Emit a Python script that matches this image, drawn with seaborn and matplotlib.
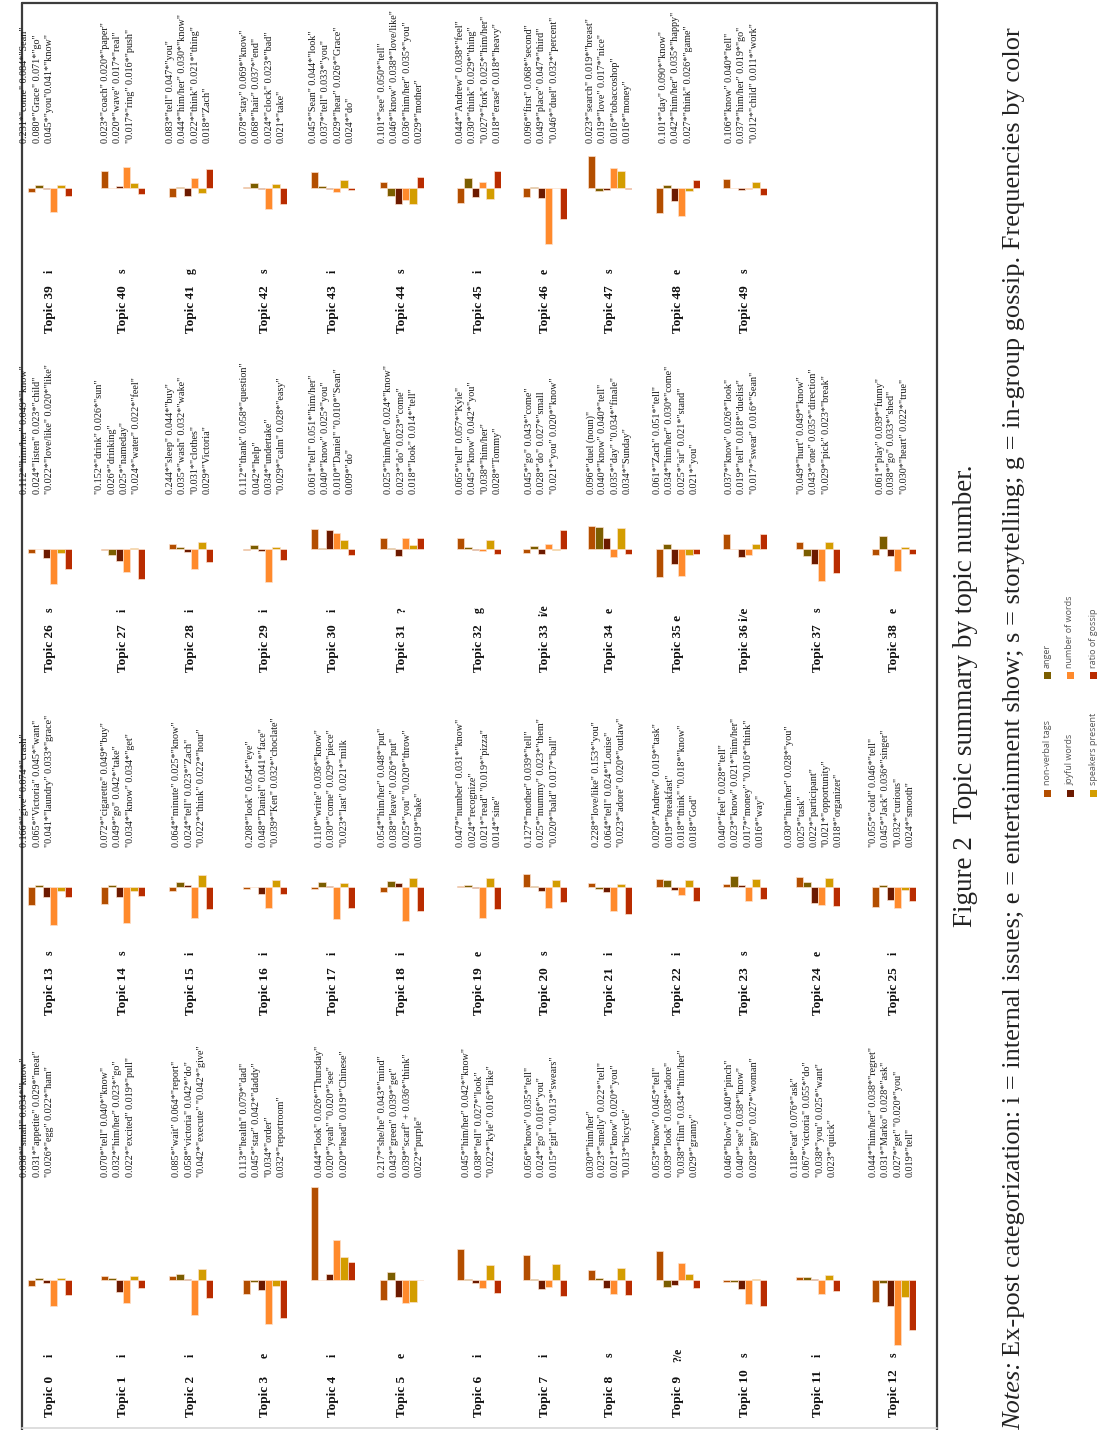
import matplotlib
matplotlib.use('Agg')
import matplotlib.pyplot as plt
import seaborn as sns
from matplotlib.patches import Rectangle
from matplotlib.lines import Line2D

sns.set_theme(style='white')
plt.rcParams['font.family'] = ['Liberation Serif', 'DejaVu Serif']

# ---- data (bar heights, arbitrary units) ----
features = ['non-verbal tags', 'anger', 'joyful words', 'number of words',
            'speakers present', 'ratio of gossip']
colors = ['#b34e00', '#7b5e00', '#6c1a00', '#ff8a2c', '#d39d00', '#b92c00']

nonverbal = [-0.6, 0.4, 0.4, -1.43, 9.33, -2.0, 3.07, 2.5, 1.0, 2.9, -0.2, 0.27, -2.17,
             -1.77, -1.67, -0.4, -0.23, -0.17, -0.47, 0.1, 1.33, 0.43, 0.83, 0.33, 1.0, -2.03,
             -0.4, -0.1, 0.5, -0.1, 2.03, 1.07, 1.1, -0.4, 2.27, -2.83, 1.5, 0.73, -0.57,
             -0.4, 1.7, -0.9, 0.1, 1.6, 0.57, -1.5, -0.9, 3.2, -2.47, 0.93]
anger = [0.2, 0.2, 0.57, -0.2, 0.05, 0.83, 0.13, 0.13, 0.23, -0.67, -0.2, 0.27, -0.33,
         0.23, 0.17, 0.5, 0.05, 0.5, 0.63, 0.23, 0.07, -0.23, 0.73, 1.13, 0.47, 0.2,
         0.05, -0.57, 0.2, 0.43, 0.1, 0.1, 0.23, 0.27, 2.2, 0.5, 0.0, -0.67, 1.27,
         0.33, 0.05, 0.1, 0.53, 0.2, -0.83, 1.0, 0.1, -0.33, 0.33, 0.05]
joyful = [-0.33, -1.17, 0.13, -1.0, 0.57, -1.7, -0.27, -0.87, -0.8, -0.5, -0.93, 0.13, -2.57,
          -1.0, -1.0, 0.17, -0.73, 0.07, 0.43, -0.1, -0.37, -0.5, -0.33, 0.17, -1.63, -1.27,
          -0.9, -1.17, -0.33, -0.23, 1.93, -0.67, -0.1, -0.47, 1.1, -1.47, -0.83, -1.5, -0.67,
          -0.1, 0.17, -0.83, -0.13, -0.1, -1.57, -0.9, -1.0, -0.23, -1.33, -0.23]
nwords = [-2.6, -2.27, -3.47, -4.37, 4.0, -2.3, -0.77, -0.73, -1.4, 1.7, -2.43, -1.4, -6.53,
          -3.83, -3.6, -3.1, -2.13, -3.2, -3.4, -3.13, -2.07, -2.37, -0.8, -1.4, -1.77, -2.1,
          -3.5, -2.3, -2.0, -3.27, 1.6, 1.13, -0.17, 0.47, -0.8, -2.73, -0.57, -3.17, -2.23,
          -2.4, 2.1, 1.0, -2.07, -0.4, -1.17, 0.57, -5.57, 2.03, -2.83, -0.05]
speakers = [0.2, 0.4, 1.07, -0.6, 2.3, -2.23, 1.53, 1.57, 1.17, 0.6, 0.1, 0.5, -1.67,
            -0.43, -0.4, 1.17, 0.67, 0.4, 0.93, 0.9, 0.73, 0.33, 0.67, 0.8, 0.87, -0.27,
            -0.4, 0.1, 0.67, 0.2, 0.93, 0.43, 0.9, -0.07, 2.1, -0.57, 0.53, 0.67, 0.23,
            0.27, 0.53, -0.5, 0.37, 0.77, -1.57, -1.07, 0.03, 1.7, -0.33, 0.6]
gossip = [-1.5, -0.8, -1.77, -3.77, 1.8, 0.0, -1.27, -1.6, -1.47, -0.83, -2.6, -1.1, -5.03,
          -1.0, -0.93, -2.17, -0.67, -2.1, -2.37, -2.17, -1.5, -2.67, -1.4, -1.17, -1.93, -1.37,
          -1.97, -3.0, -1.33, -1.13, -0.57, 1.07, -0.53, 1.93, -0.5, -0.5, 1.5, -2.4, -0.5,
          -0.83, -0.57, 1.87, -1.57, -0.2, 1.07, 1.67, -3.07, -0.1, 0.77, -0.67]

categories = ['i', 'i', 'i', 'e', 'i', 'e', 'i', 'i', 's', '?/e', 's', 'i', 's',
              's', 's', 'i', 'i', 'i', 'i', 'e', 's', 'i', 'i', 's', 'e', 'i',
              's', 'i', 'i', 'i', 'i', '?', 'g', 'i/e', 'e', 'e', 'i/e', 's', 'e',
              'i', 's', 'g', 's', 'i', 's', 'i', 'e', 's', 'e', 's']
inline_cat = [35, 36]

topic_words = [
    ['0.038*"small" 0.034*"know"', '0.031*"appetite" 0.029*"meat"', '"0.026*"egg" 0.022*"ham"'],
    ['0.070*"tell" 0.040*"know"', '0.032*"him/her" 0.023*"go"', '0.022*"excited" 0.019*"pull"'],
    ['0.085*"wait" 0.064*"report"', '0.058*"victoria" 0.042*"do"', '"0.042*"execute" "0.042*"give"'],
    ['0.113*"health" 0.079*"dad"', '0.045*"star" 0.042*"daddy"', '"0.034*"order"', '0.032*"reportroom"'],
    ['0.044*"look" 0.026*"Thursday"', '0.020*"yeah" "0.020*"see"', '0.020*"head" 0.019*"Chinese"'],
    ['0.217*"she/he" 0.043*"mind"', '0.043*"green" 0.039*"get"', '0.039*"scarf" + 0.036*"think"', '0.022*"purple"'],
    ['0.045*"him/her" 0.042*"know"', '0.038*"tell" 0.027*"look"', '"0.022*"kyle" 0.016*"like"'],
    ['0.056*"know" 0.035*"tell"', '0.024*"go" 0.016*"you"', '0.015*"girl" "0.013*"swears"'],
    ['0.030*"him/her"', '0.023*"smelly" 0.022*"tell"', '0.021*"know" 0.020*"you"', '"0.013*"bicycle"'],
    ['0.053*"know" 0.045*"tell"', '0.039*"look" 0.038*"adore"', '"0.038*"film" 0.034*"him/her"', '0.029*"granny"'],
    ['0.046*"blow" 0.040*"pinch"', '0.040*"see" 0.038*"know"', '0.028*"guy" 0.027*"woman"'],
    ['0.118*"eat" 0.076*"ask"', '0.067*"victoria" 0.055*"do"', '"0.038*"you" 0.025*"want"', '0.023*"quick"'],
    ['0.044*"him/her" 0.038*"regret"', '0.031*"Marko" 0.028*"ask"', '0.027*"get" "0.020*"you"', '0.019*"tell"'],
    ['0.166*"give" 0.074*"crash"', '0.065*"Victoria" 0.045*"want"', '"0.041*"laundry" 0.033*"grace"'],
    ['0.072*"cigarette" 0.049*"buy"', '0.049*"go" 0.042*"take"', '"0.034*"know" 0.034*"get"'],
    ['0.064*"minute" 0.025*"know"', '0.024*"tell" 0.023*"Zach"', '"0.022*"think" 0.022*"hour"'],
    ['0.208*"look" 0.054*"eye"', '0.048*"Daniel" 0.041*"face"', '"0.039*"Ken" 0.032*"choclate"'],
    ['0.110*"write" 0.036*"know"', '0.030*"come" 0.029*"piece"', '"0.023*"last" 0.021*"milk'],
    ['0.054*"him/her" 0.048*"put"', '0.038*"leave" 0.026*"put"', '0.025*"you" "0.020*"throw"', '0.019*"bake"'],
    ['0.047*"number" 0.031*"know"', '0.024*"recognize"', '0.021*"read" "0.019*"pizza"', '0.014*"sine"'],
    ['0.127*"mother" 0.039*"tell"', '0.025*"mummy" 0.023*"them"', '"0.020*"bald" 0.017*"ball"'],
    ['0.228*"love/like" 0.153*"you"', '0.064*"tell" 0.024*"Louise"', '"0.023*"adore" 0.020*"outlaw"'],
    ['0.020*"Andrew" 0.019*"task"', '0.019*"breakfast"', '0.018*"think" "0.018*"know"', '0.018*"God"'],
    ['0.040*"feel" 0.028*"tell"', '0.023*"know" 0.021*"him/her"', '0.017*"money" "0.016*"think"', '0.016*"way"'],
    ['0.030*"him/her" 0.028*"you"', '0.025*"task"', '0.022*"participant"', '"0.021*"opportunity"', '0.018*"organizer"'],
    ['"0.055*"cold" 0.046*"tell"', '0.045*"Jack" 0.036*"singer"', '"0.032*"curious"', '0.024*"smooth"'],
    ['0.112*"him/her" 0.049*"know"', '0.024*"listen" 0.023*"child"', '"0.022*"love/like" 0.020*"like"'],
    ['"0.152*"drink" 0.026*"sun"', '0.026*"drinking"', '0.025*"nameday"', '"0.024*"water" 0.022*"feel"'],
    ['0.244*"sleep" 0.044*"buy"', '0.035*"wash" 0.032*"wake"', '"0.031*"clothes"', '0.029*"Victoria"'],
    ['0.112*"thank" 0.058*"question"', '0.042*"help"', '0.034*"undertake"', '"0.029*"calm" 0.028*"easy"'],
    ['0.061*"tell" 0.051*"him/her"', '0.040*"know" 0.025*"you"', '0.010*"Daniel" "0.010*"Sean"', '0.009*"do"'],
    ['0.025*"him/her" 0.024*"know"', '0.023*"do" 0.023*"come"', '0.018*"look" 0.014*"tell"'],
    ['0.065*"tell" 0.057*"Kyle"', '0.045*"know" 0.042*"you"', '"0.038*"him/her"', '0.028*"Tommy"'],
    ['0.045*"go" 0.043*"come"', '0.028*"do" 0.027*"small', '"0.021*"you" 0.020*"know"'],
    ['0.096*"duel (noun)"', '0.040*"know" 0.040*"tell"', '0.035*"day" "0.034*"finale"', '0.034*"Sunday"'],
    ['0.061*"Zach" 0.051*"tell"', '0.034*"him/her" 0.030*"come"', '0.025*"sir" 0.021*"stand"', '0.021*"you"'],
    ['0.037*"know" 0.026*"look"', '0.019*"tell" 0.018*"duelist"', '"0.017*"swear" 0.016*"Sean"'],
    ['"0.049*"hurt" 0.049*"know"', '0.043*"one" 0.035*"direction"', '"0.029*"pick" 0.023*"break"'],
    ['0.061*"play" 0.039*"funny"', '0.038*"go" 0.033*"shed"', '"0.030*"heart" 0.022*"true"'],
    ['0.231*"come" 0.084*"Sean"', '0.080*"Grace" 0.071*"go"', '0.045*"you"0.041*"know"'],
    ['0.023*"coach" 0.020*"paper"', '0.020*"wave" 0.017*"real"', '"0.017*"ring" 0.016*"push"'],
    ['0.083*"tell" 0.047*"you"', '0.044*"him/her" 0.030*"know"', '0.022*"think" 0.021*"thing"', '0.018*"Zach"'],
    ['0.078*"stay" 0.069*"know"', '0.068*"hair" 0.037*"end"', '0.024*"clock" 0.023*"bad"', '0.021*"take"'],
    ['0.045*"Sean" 0.044*"look"', '0.037*"tell" 0.033*"you"', '0.029*"hear" 0.026*"Grace"', '0.024*"do"'],
    ['0.101*"see" 0.050*"tell"', '0.046*"know" 0.038*"love/like"', '0.036*"him/her" 0.035*"you"', '0.029*"mother"'],
    ['0.044*"Andrew" 0.038*"feel"', '0.030*"think" 0.029*"thing"', '"0.027*"fork" 0.025*"him/her"', '0.018*"erase" 0.018*"heavy"'],
    ['0.096*"first" 0.068*"second"', '0.049*"place" 0.047*"third"', '"0.046*"duel" 0.032*"percent"'],
    ['0.023*"search" 0.019*"breast"', '0.019*"love" 0.017*"nice"', '0.016*"tobaccoshop"', '0.016*"money"'],
    ['0.101*"day" 0.090*"know"', '0.042*"him/her" 0.035*"happy"', '0.027*"think" 0.026*"game"'],
    ['0.106*"know" 0.040*"tell"', '0.037*"him/her" 0.019*"go"', '"0.012*"child" 0.011*"work"'],
]

# ---- layout (pixels in the final 1105x1430 picture) ----
W, H = 1105, 1430
col_x = [50, 123, 191, 265, 333, 402, 479, 545, 610, 678, 745, 818, 894]
text_x = [37, 118, 189, 263, 332, 401, 479, 542, 609, 676, 742, 814, 892]
band_base = [1280, 887, 549, 188]      # zero line of the bars
band_text = [1177, 847, 494, 143]      # where the word lists start
band_label = [1417, 1015, 672, 333]    # where "Topic n" starts
LINE = 12.2
BAR_W = 44


def fx(x):
    return x / W


def fy(y):
    return 1 - y / H


fig = plt.figure(figsize=(W / 100, H / 100), dpi=100)
fig.patch.set_facecolor('white')

series = [nonverbal, anger, joyful, nwords, speakers, gossip]
pal = dict(zip(features, colors))

for n in range(50):
    band, col = divmod(n, 13)
    cx = col_x[col]
    base = band_base[band]

    # small bar chart of the six standardised features
    ax = fig.add_axes([fx(cx - BAR_W / 2), fy(base + 110), BAR_W / W, 220 / H])
    vals = [s[n] for s in series]
    sns.barplot(x=features, y=vals, hue=features, palette=pal, order=features,
                width=1.0, saturation=1, edgecolor='#fbe0cc', linewidth=0.5,
                legend=False, ax=ax)
    ax.set_xlim(-0.5, 5.5)
    ax.set_ylim(-11, 11)
    ax.axis('off')
    ax.patch.set_alpha(0)

    # topic label and category
    label = f'Topic {n}'
    if n in inline_cat:
        label = f'Topic {n} {categories[n]}'
    fig.text(fx(cx), fy(band_label[band]), label, rotation=90, ha='center', va='bottom',
             fontsize=9.5, fontweight='bold', color='#111111')
    if n not in inline_cat:
        fig.text(fx(cx), fy(band_label[band] - 62), categories[n], rotation=90,
                 ha='center', va='center', fontsize=8.5, fontweight='bold', color='#111111')

    # top words
    lines = topic_words[n]
    k = len(lines)
    for i, line in enumerate(lines):
        x = text_x[col] + (i - (k - 1) / 2) * LINE
        fig.text(fx(x), fy(band_text[band]), line, rotation=90, ha='center', va='bottom',
                 fontsize=7.3, color='#1a1a1a')

# frame around the table
frame = '#3c3c3c'
fig.add_artist(Line2D([fx(22), fx(22)], [fy(3), fy(1430)], color=frame, lw=1.6))
fig.add_artist(Line2D([fx(22), fx(937)], [fy(3), fy(3)], color=frame, lw=1.6))
fig.add_artist(Line2D([fx(937), fx(937)], [fy(3), fy(1430)], color=frame, lw=1.6))
fig.add_artist(Line2D([fx(22), fx(937)], [fy(1428), fy(1428)], color='#d8d8d8', lw=1.2))

# legend (rotated, drawn by hand)
leg_x = [1047, 1070, 1093]
leg_rows = [(793, 785), (676, 668)]
for j, (name, c) in enumerate(zip(features, colors)):
    lx = leg_x[j // 2]
    sq, ty = leg_rows[j % 2]
    fig.add_artist(Rectangle((fx(lx - 3.5), fy(sq + 3.5)), 7 / W, 7 / H,
                             transform=fig.transFigure, facecolor=c, edgecolor='none'))
    fig.text(fx(lx), fy(ty), name, rotation=90, ha='center', va='bottom',
             fontsize=6.5, color='#555555', family=['Open Sans', 'DejaVu Sans'])

# caption and notes
fig.text(fx(966), fy(696), 'Figure 2  Topic summary by topic number.', rotation=90,
         ha='center', va='center', fontsize=19.5, color='#222222')

renderer = fig.canvas.get_renderer()
notes_head = fig.text(fx(1014), fy(1430), 'Notes:', rotation=90, ha='center', va='bottom',
                      fontsize=19, style='italic', color='#222222')
bb = notes_head.get_window_extent(renderer)
fig.text(fx(1014), (bb.y1 + 5) / H,
         'Ex-post categorization: i = internal issues; e = entertainment show; '
         's = storytelling; g = in-group gossip. Frequencies by color',
         rotation=90, ha='center', va='bottom', fontsize=19, color='#222222')

fig.savefig('out.png', dpi=100, facecolor='white')
